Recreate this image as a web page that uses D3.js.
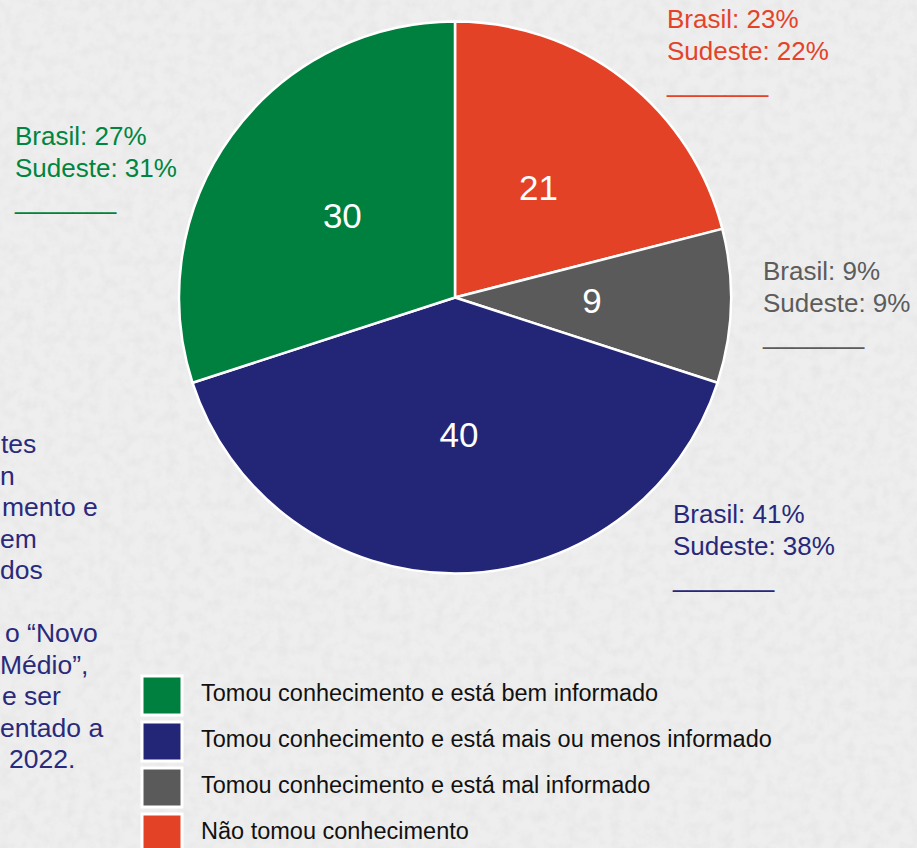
<!DOCTYPE html>
<meta charset="utf-8">
<style>
body { margin: 0; overflow: hidden; background: #ececec; }
text { font-family: "Liberation Sans", Arial, sans-serif; }
</style>
<svg width="917" height="848"></svg>
<script src="https://d3js.org/d3.v7.min.js"></script>
<script>
// categories, in legend order
var categories = [
  "Tomou conhecimento e está bem informado",
  "Tomou conhecimento e está mais ou menos informado",
  "Tomou conhecimento e está mal informado",
  "Não tomou conhecimento"
];
var values = [30, 40, 9, 21];      // shown in the slices
var brasil = [27, 41, 9, 23];      // callout: Brasil
var sudeste = [31, 38, 9, 22];     // callout: Sudeste
var colors = ["#00803f", "#232677", "#5a5a5a", "#e44226"];
var textColors = ["#00853f", "#28287a", "#5c5c5c", "#e4432a"];

// slices go clockwise from 12 o'clock in this order
var pieOrder = [3, 2, 1, 0];

// what is left visible of the note on the left edge
var noteLines = [
  "tes", "n", "mento e", "em", "dos", "",
  "o “Novo", "Médio”,", "e ser", "entado a", "2022."
];
var noteIndent = [1, 0, 2, 0, 0, 0, 5, 0, 2, 0, 9];

var svg = d3.select("svg");

// paper-like background
var defs = svg.append("defs");
var f = defs.append("filter").attr("id", "paper")
    .attr("x", 0).attr("y", 0).attr("width", "100%").attr("height", "100%");
f.append("feTurbulence").attr("type", "fractalNoise")
    .attr("baseFrequency", 0.09).attr("numOctaves", 4).attr("seed", 7);
f.append("feColorMatrix").attr("type", "matrix")
    .attr("values", "0 0 0 0 0.5  0 0 0 0 0.5  0 0 0 0 0.5  0 0 0 -0.9 0.55");
f.append("feComposite").attr("in2", "SourceGraphic").attr("operator", "in");

svg.append("rect").attr("width", 917).attr("height", 848).attr("fill", "#eeeeee");
svg.append("rect").attr("width", 917).attr("height", 848).attr("fill", "#fff")
    .attr("filter", "url(#paper)").attr("opacity", 0.3);

// pie
var cx = 455, cy = 297.5, radius = 276;

var pie = d3.pie().sort(null).value(function(i) { return values[i]; });
var arc = d3.arc().innerRadius(0).outerRadius(radius);
var labelArc = d3.arc().innerRadius(radius * 0.5).outerRadius(radius * 0.5);

var g = svg.append("g").attr("transform", "translate(" + cx + "," + cy + ")");

var slices = g.selectAll(".slice")
    .data(pie(pieOrder))
  .enter().append("g")
    .attr("class", "slice");

slices.append("path")
    .attr("d", arc)
    .attr("fill", function(d) { return colors[d.data]; })
    .attr("stroke", "#fff")
    .attr("stroke-width", 2.5)
    .attr("stroke-linejoin", "round");

slices.append("text")
    .attr("transform", function(d) { return "translate(" + labelArc.centroid(d) + ")"; })
    .attr("dx", function(d) { return d.data == 1 ? 4 : -1; })
    .attr("dy", "0.33em")
    .attr("text-anchor", "middle")
    .attr("fill", "#fff")
    .style("font-size", "35px")
    .text(function(d) { return values[d.data]; });

// callouts (first baseline of each text block)
var calloutPos = [[15, 145], [673, 523], [763, 280], [667, 28]];

var callouts = svg.selectAll(".callout")
    .data(categories)
  .enter().append("text")
    .attr("class", "callout")
    .attr("x", function(d, i) { return calloutPos[i][0]; })
    .attr("y", function(d, i) { return calloutPos[i][1]; })
    .attr("fill", function(d, i) { return textColors[i]; })
    .style("font-size", "26px");

callouts.append("tspan")
    .text(function(d, i) { return "Brasil: " + brasil[i] + "%"; });
callouts.append("tspan")
    .attr("x", function(d, i) { return calloutPos[i][0]; })
    .attr("dy", 32)
    .text(function(d, i) { return "Sudeste: " + sudeste[i] + "%"; });
callouts.append("tspan")
    .attr("x", function(d, i) { return calloutPos[i][0]; })
    .attr("dy", 32)
    .text("_______");

// note on the left
svg.append("text")
    .attr("fill", "#2a2a7c")
    .style("font-size", "26.5px")
  .selectAll("tspan")
    .data(noteLines)
  .enter().append("tspan")
    .attr("x", function(d, i) { return noteIndent[i]; })
    .attr("y", function(d, i) { return 453 + i * 31.5; })
    .text(function(d) { return d; });

// legend
var legend = svg.selectAll(".legend")
    .data(categories)
  .enter().append("g")
    .attr("class", "legend")
    .attr("transform", function(d, i) { return "translate(142," + (676 + i * 46) + ")"; });

legend.append("rect")
    .attr("width", 40)
    .attr("height", 39)
    .attr("fill", function(d, i) { return colors[i]; })
    .attr("stroke", "#fff")
    .attr("stroke-width", 3);

legend.append("text")
    .attr("x", 59)
    .attr("y", 25)
    .attr("fill", "#111")
    .style("font-size", "23.5px")
    .text(function(d) { return d; });
</script>
